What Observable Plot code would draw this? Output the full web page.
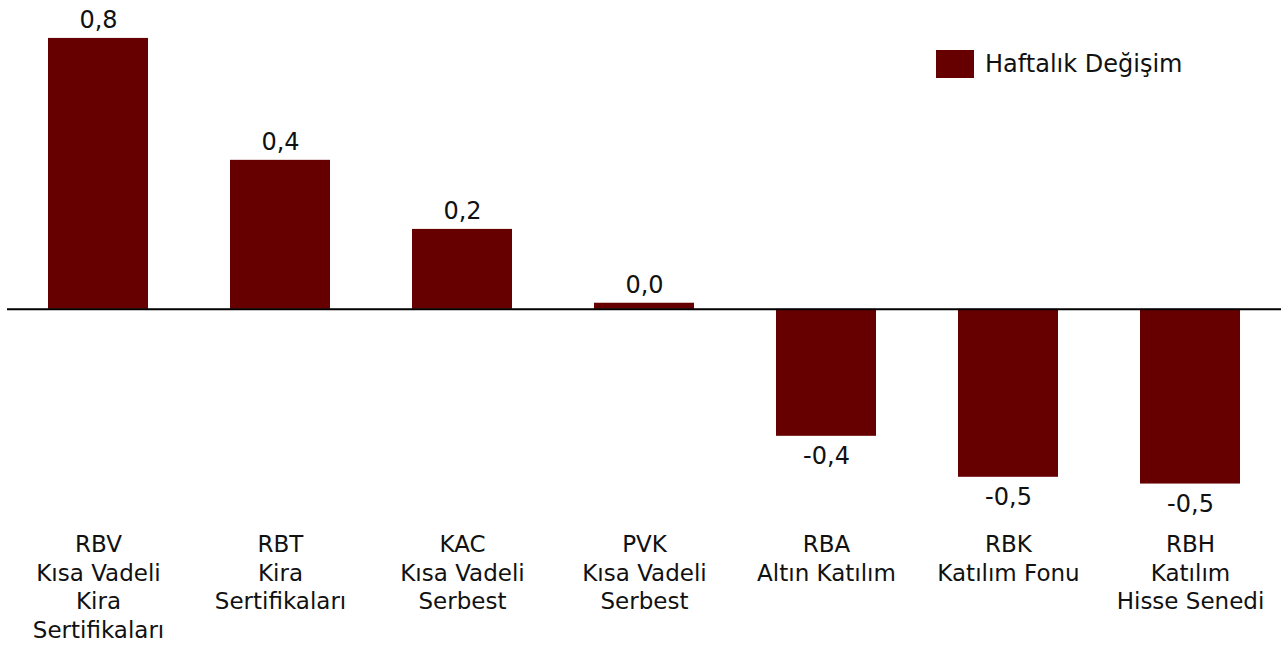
<!DOCTYPE html>
<html>
<head>
<meta charset="utf-8">
<script src="https://cdn.jsdelivr.net/npm/d3@7"></script>
<script src="https://cdn.jsdelivr.net/npm/@observablehq/plot@0.6"></script>
<style>
  html, body { margin: 0; padding: 0; background: #fff; }
  #wrap { position: relative; width: 1287px; height: 646px; font-family: "DejaVu Sans", sans-serif; }
  #legend { position: absolute; left: 936px; top: 50px; display: flex; align-items: center; font-size: 24px; color: #111; }
  #legend .sw { width: 38px; height: 28px; background: #660000; margin-right: 11px; }
</style>
</head>
<body>
<div id="wrap">
  <div id="chart"></div>
  <div id="legend"><div class="sw"></div><span>Haftalık Değişim</span></div>
</div>
<script>
const codes = ["RBV", "RBT", "KAC", "PVK", "RBA", "RBK", "RBH"];
const names = [
  "Kısa Vadeli\nKira\nSertifikaları",
  "Kira\nSertifikaları",
  "Kısa Vadeli\nSerbest",
  "Kısa Vadeli\nSerbest",
  "Altın Katılım",
  "Katılım Fonu",
  "Katılım\nHisse Senedi"
];
const values = [0.80, 0.44, 0.236, 0.018, -0.375, -0.496, -0.516];
const seriesName = "Haftalık Değişim";

const data = codes.map((c, i) => ({ code: c, label: c + "\n" + names[i], value: values[i] }));
const fmt = v => (v < 0 ? "-" : "") + Math.abs(v).toFixed(1).replace(".", ",");
const pos = data.filter(d => d.value >= 0);
const neg = data.filter(d => d.value < 0);

const chart = Plot.plot({
  width: 1287,
  height: 646,
  marginTop: 21,
  marginBottom: 134,
  marginLeft: 7,
  marginRight: 6,
  style: { fontFamily: "DejaVu Sans, sans-serif", color: "#111", background: "#fff" },
  x: { domain: codes, paddingInner: 0.45, paddingOuter: 0.225, label: null },
  y: { domain: [-0.6, 0.85], axis: null },
  marks: [
    Plot.barY(data, { x: "code", y: "value", fill: "#660000" }),
    Plot.ruleY([0], { stroke: "#000", strokeWidth: 2 }),
    Plot.text(pos, { x: "code", y: "value", text: d => fmt(d.value), dy: -18, fontSize: 24, fill: "#111" }),
    Plot.text(neg, { x: "code", y: "value", text: d => fmt(d.value), dy: 20, fontSize: 24, fill: "#111" }),
    Plot.axisX({
      tickSize: 0, tickPadding: 19, fontSize: 23, lineHeight: 1.25,
      tickFormat: c => data.find(d => d.code === c).label,
      label: null, fill: "#111"
    })
  ]
});
document.getElementById("chart").appendChild(chart);
</script>
</body>
</html>
